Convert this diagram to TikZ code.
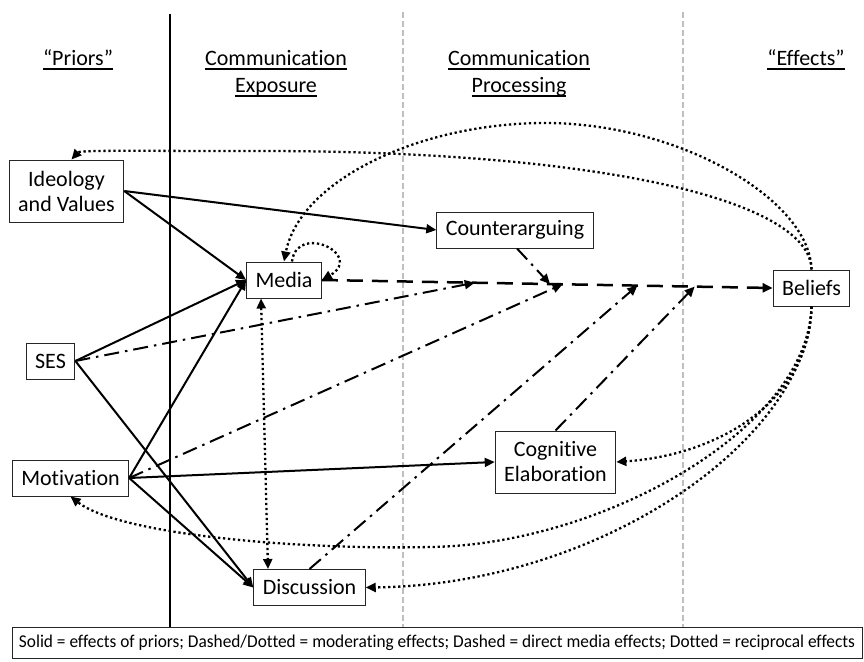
\documentclass[tikz,border=0pt]{standalone}
\usepackage{fontspec}
\usepackage{graphicx}
\setmainfont{Carlito}[Ligatures={TeX,NoCommon}]
\usetikzlibrary{arrows.meta,calc}
\newcommand{\ulx}[1]{\leavevmode\setbox0=\hbox{#1}\rlap{\rule[-4.4pt]{\wd0}{1.9pt}}\box0}
\begin{document}
\begin{tikzpicture}[x=1pt,y=-1pt,
  box/.style={draw=black!85, line width=1pt, fill=white, font=\fontsize{22}{25}\selectfont, align=center, inner xsep=9pt, inner ysep=0pt, minimum height=36pt},
  hdr/.style={font=\fontsize{22}{27}\selectfont, align=center, inner sep=0pt},
  tip/.style={-{Triangle[length=10pt,width=9pt]}},
  solidarr/.style={line width=2pt, tip},
  dasharr/.style={line width=2.5pt, dash pattern=on 16pt off 9pt, tip},
  modarr/.style={line width=2pt, dash pattern=on 15pt off 6pt on 2.5pt off 6pt, tip},
  recip/.style={line width=2.3pt, dash pattern=on 2.3pt off 2.7pt, tip},
  divider/.style={black!25, line width=1.1pt, dash pattern=on 6pt off 3pt}]
\useasboundingbox (0,0) rectangle (864,661);

% legend
\node[draw=black!85, line width=1pt, minimum width=850pt, minimum height=31pt, inner sep=0pt,
      font=\fontsize{18}{20}\selectfont] (legend) at (437,642.5)
  {\resizebox{836pt}{\height}{Solid = effects of priors; Dashed/Dotted = moderating effects; Dashed = direct media effects; Dotted = reciprocal effects}};

% column dividers
\coordinate (v1) at (170,14);
\coordinate (v2) at (403,12);
\coordinate (v3) at (683,12);
\draw[line width=1.3pt] (v1) -- (v1 |- legend.north);
\draw[divider] (v2) -- (v2 |- legend.north);
\draw[divider] (v3) -- (v3 |- legend.north);

% headers
\node[hdr] (h1) at (78,60) {\ulx{“Priors”}};
\node[hdr] (h2) at (276,74) {\ulx{Communication}\\\ulx{Exposure}};
\node[hdr] (h3) at (519,74) {\ulx{Communication}\\\ulx{Processing}};
\node[hdr] (h4) at (806,60) {\ulx{“Effects”}};

% nodes
\node[box, minimum height=62pt] (ideo) at (66.5,191) {Ideology\\and Values};
\node[box] (media) at (284,280) {Media};
\node[box] (counter) at (515,230) {Counterarguing};
\node[box] (beliefs) at (811.5,288) {Beliefs};
\node[box] (ses) at (50.5,361) {SES};
\node[box] (motiv) at (70.5,478) {Motivation};
\node[box] (disc) at (309.5,587.5) {Discussion};
\node[box, minimum height=62pt] (cog) at (555.5,462) {Cognitive\\Elaboration};

% direct media effect
\draw[dasharr] (media.east) -- (beliefs.west);
\coordinate (m1) at ($(media.east)!0.339!(beliefs.west)$);
\coordinate (m2) at ($(media.east)!0.506!(beliefs.west)$);
\coordinate (m3) at ($(media.east)!0.534!(beliefs.west)$);
\coordinate (m4) at ($(media.east)!0.700!(beliefs.west)$);
\coordinate (m5) at ($(media.east)!0.827!(beliefs.west)$);

% moderating effects
\draw[modarr] (ses.east) -- (m1);
\draw[modarr] ([xshift=2pt]counter.south) -- (m2);
\draw[modarr] (motiv.east) -- (m3);
\draw[modarr] (disc.north) -- (m4);
\draw[modarr] (cog.north) -- (m5);

% effects of priors
\draw[solidarr] (ideo.east) -- (counter.west);
\draw[solidarr] (ideo.east) -- (media.west);
\draw[solidarr] (ses.east) -- (media.west);
\draw[solidarr] (motiv.east) -- (media.west);
\draw[solidarr] (ses.east) -- (disc.west);
\draw[solidarr] (motiv.east) -- (disc.west);
\draw[solidarr] (motiv.east) -- (cog.west);

% reciprocal effects
\draw[recip] (beliefs.north) .. controls (810,200) and (600,150) .. (250,151) .. controls (130,151) and (80,150) .. ([xshift=5pt]ideo.north);
\draw[recip] (beliefs.north) .. controls (810,200) and (680,123) .. (545,123) .. controls (420,123) and (300,180) .. (media.north);
\draw[recip] ([xshift=8pt]media.north) .. controls (297,222) and (365,255) .. (media.east);
\draw[recip, {Triangle[length=10pt,width=9pt]}-{Triangle[length=10pt,width=9pt]}] ([xshift=-23pt]media.south) -- ([xshift=-41.5pt]disc.north);
\draw[recip] (beliefs.south) .. controls (810,400) and (720,455) .. (cog.east);
\draw[recip] (beliefs.south) .. controls (808,440) and (600,585) .. (disc.east);
\draw[recip] (beliefs.south) .. controls (808,430) and (600,545) .. (430,547) .. controls (300,550) and (120,535) .. (motiv.south);
\end{tikzpicture}
\end{document}
